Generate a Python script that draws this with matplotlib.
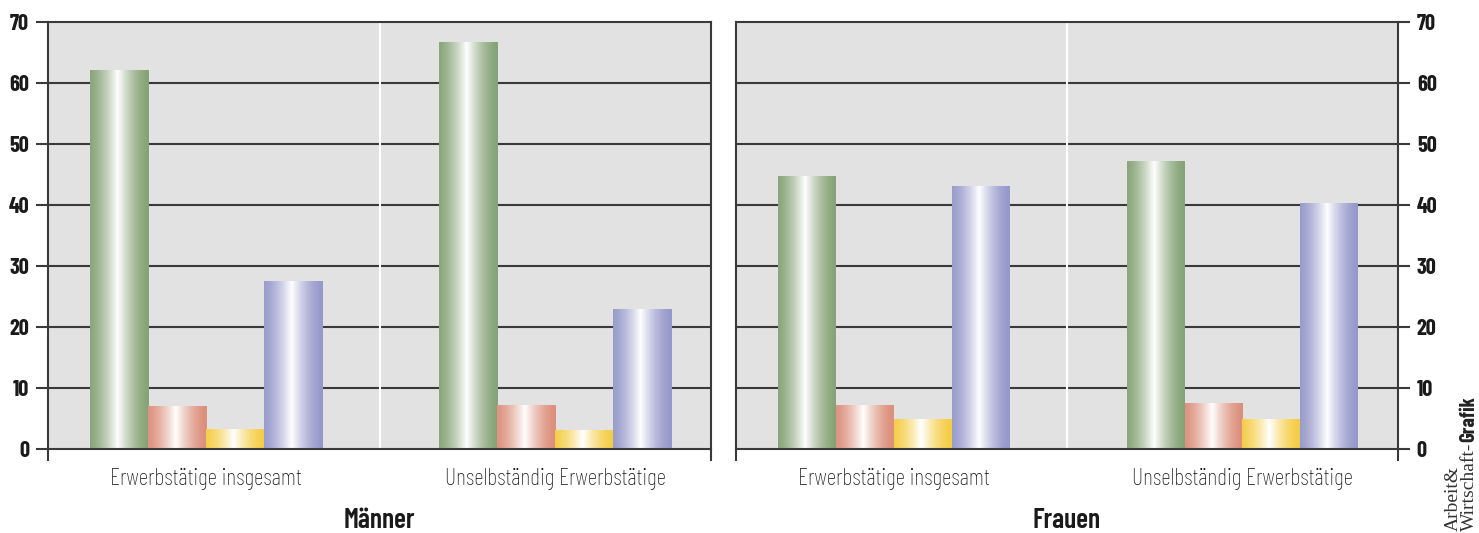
import numpy as np
import matplotlib.pyplot as plt
from matplotlib.colors import to_rgb

# --- data ---
categories = ["Erwerbstätige insgesamt", "Unselbständig Erwerbstätige"]
panel_titles = ["Männer", "Frauen"]
maenner_values = [[62.0, 7.0, 3.2, 27.5],
                  [66.7, 7.1, 3.0, 22.8]]
frauen_values = [[44.7, 7.2, 4.8, 43.1],
                 [47.2, 7.4, 4.8, 40.2]]
y_ticks = [0, 10, 20, 30, 40, 50, 60, 70]

bar_colors = ["#86a377", "#dc8f7b", "#f4cd45", "#9698ca"]
bg_color = "#e3e2e2"
line_color = "#3a3a3a"
cond = ["Barlow Condensed", "DejaVu Sans"]

# --- layout (pixels of the 1479x533 picture) ---
W, H = 1479, 533
group_centers = [0.477, 1.53]
bar_w = 0.175


def gradient_bar(ax, x0, height, color):
    # cylinder look: colour at the edges, white highlight a bit left of centre
    t = np.linspace(0, 1, 200)
    w = np.clip(1 - np.abs(t - 0.47) / 0.53, 0, 1) ** 1.6
    c = np.array(to_rgb(color))
    img = c[None, :] * (1 - w[:, None]) + w[:, None]
    ax.imshow(img[None, :, :], extent=[x0, x0 + bar_w, 0, height],
              aspect="auto", zorder=2, interpolation="bilinear")


fig = plt.figure(figsize=(W / 100, H / 100), dpi=100)
axes = [fig.add_axes([48 / W, (H - 449) / H, 663 / W, 427 / H]),
        fig.add_axes([736 / W, (H - 449) / H, 662 / W, 427 / H])]

for i, (ax, values) in enumerate(zip(axes, [maenner_values, frauen_values])):
    ax.set_facecolor(bg_color)
    for g, vals in enumerate(values):
        left = group_centers[g] - 2 * bar_w
        for k, v in enumerate(vals):
            gradient_bar(ax, left + k * bar_w, v, bar_colors[k])
    ax.set_xlim(0, 2)
    ax.set_ylim(0, 70)

    for y in y_ticks[1:-1]:
        ax.axhline(y, color=line_color, lw=1.5, zorder=1)
    ax.axvline(1.0, color="white", lw=1.5, zorder=1.5)

    for s in ax.spines.values():
        s.set_color(line_color)
        s.set_linewidth(1.5)

    ax.set_yticks(y_ticks)
    ax.set_yticklabels([str(y) for y in y_ticks], family=cond,
                       fontweight="bold", fontsize=16, color="#1a1a1a")
    if i == 1:
        ax.yaxis.tick_right()
    ax.tick_params(axis="y", length=8.5, width=1.5, color=line_color, pad=5)

    ax.set_xticks(group_centers)
    ax.set_xticklabels(categories, family=cond, fontsize=17,
                       fontweight="light", color="#111111")
    ax.tick_params(axis="x", which="major", length=0, pad=14)
    ax.set_xticks([0, 2], minor=True)
    ax.tick_params(axis="x", which="minor", length=8.5, width=1.5,
                   color=line_color)

    xc = (ax.get_position().x0 + ax.get_position().x1) / 2
    fig.text(xc, (H - 521) / H, panel_titles[i], family=cond,
             fontweight="semibold", fontsize=20, ha="center", va="center",
             color="#1a1a1a")

# credit, rotated
fig.text(1453 / W, 2 / H, "Arbeit&", family="Liberation Serif", fontsize=14,
         rotation=90, ha="center", va="bottom", color="#333333")
t2 = fig.text(1469 / W, 2 / H, "Wirtschaft-", family="Liberation Serif",
              fontsize=14, rotation=90, ha="center", va="bottom",
              color="#333333")
fig.canvas.draw()
bb = t2.get_window_extent()
fig.text(1469 / W, bb.y1 / H, "Grafik", family=cond, fontweight="bold",
         fontsize=15, rotation=90, ha="center", va="bottom",
         color="#222222")

fig.savefig("out.png", dpi=100)
